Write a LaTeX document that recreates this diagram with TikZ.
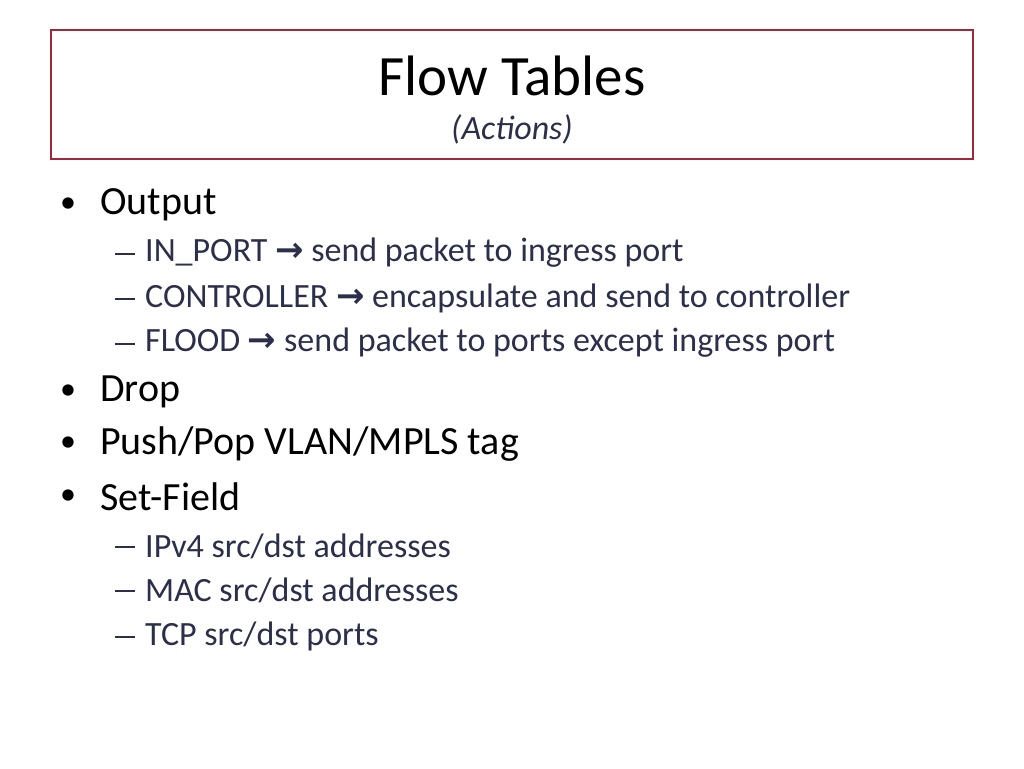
\documentclass[tikz,border=0pt]{standalone}
\usepackage{fontspec}
\setmainfont{Carlito}
\newfontfamily\symfont{DejaVu Sans}
\definecolor{framered}{HTML}{A0283C}
\definecolor{subgray}{HTML}{2B2F4A}
\newcommand{\arr}{{\symfont\bfseries →}}
\tikzset{
  lvlone/.style={anchor=west,font=\fontsize{40}{44}\selectfont,inner sep=0pt},
  lvltwo/.style={anchor=west,font=\fontsize{34}{38}\selectfont,text=subgray,inner sep=0pt},
  dot/.style={anchor=west,font=\fontsize{32}{36}\selectfont,inner sep=0pt},
  dashmark/.style={subgray,line width=1.6pt}
}
\begin{document}
\begin{tikzpicture}[x=1pt,y=-1pt]
\useasboundingbox (0,0) rectangle (1024,768);
% Title box
\draw[framered,line width=2pt] (51,30) rectangle (973,159);
\node[font=\fontsize{57}{60}\selectfont,inner sep=0pt] (title) at (512,76) {Flow Tables};
\node[font=\fontsize{34}{38}\selectfont\itshape,text=subgray,inner sep=0pt] (subtitle) at (512,129) {(Actions)};

% Output
\node[dot] at (60,205) {\textbullet};
\node[lvlone] (out) at (100,205) {Output};
\draw[dashmark] (115,254) -- (135,254);
\node[lvltwo] (inport) at (145,253) {IN\_PORT \arr{} send packet to ingress port};
\draw[dashmark] (115,299) -- (135,299);
\node[lvltwo] (ctrl) at (145,298) {CONTROLLER \arr{} encapsulate and send to controller};
\draw[dashmark] (115,344) -- (135,344);
\node[lvltwo] (flood) at (145,343) {FLOOD \arr{} send packet to ports except ingress port};

% Drop, Push/Pop
\node[dot] at (60,392) {\textbullet};
\node[lvlone] (drop) at (100,392) {Drop};
\node[dot] at (60,444) {\textbullet};
\node[lvlone] (push) at (100,444) {Push/Pop VLAN/MPLS tag};

% Set-Field
\node[dot] at (60,497) {\textbullet};
\node[lvlone] (setf) at (100,497) {Set-Field};
\draw[dashmark] (115,547) -- (135,547);
\node[lvltwo] (ipv4) at (145,546) {IPv4 src/dst addresses};
\draw[dashmark] (115,591) -- (135,591);
\node[lvltwo] (mac) at (145,590) {MAC src/dst addresses};
\draw[dashmark] (115,637) -- (135,637);
\node[lvltwo] (tcp) at (145,636) {TCP src/dst ports};
\end{tikzpicture}
\end{document}
